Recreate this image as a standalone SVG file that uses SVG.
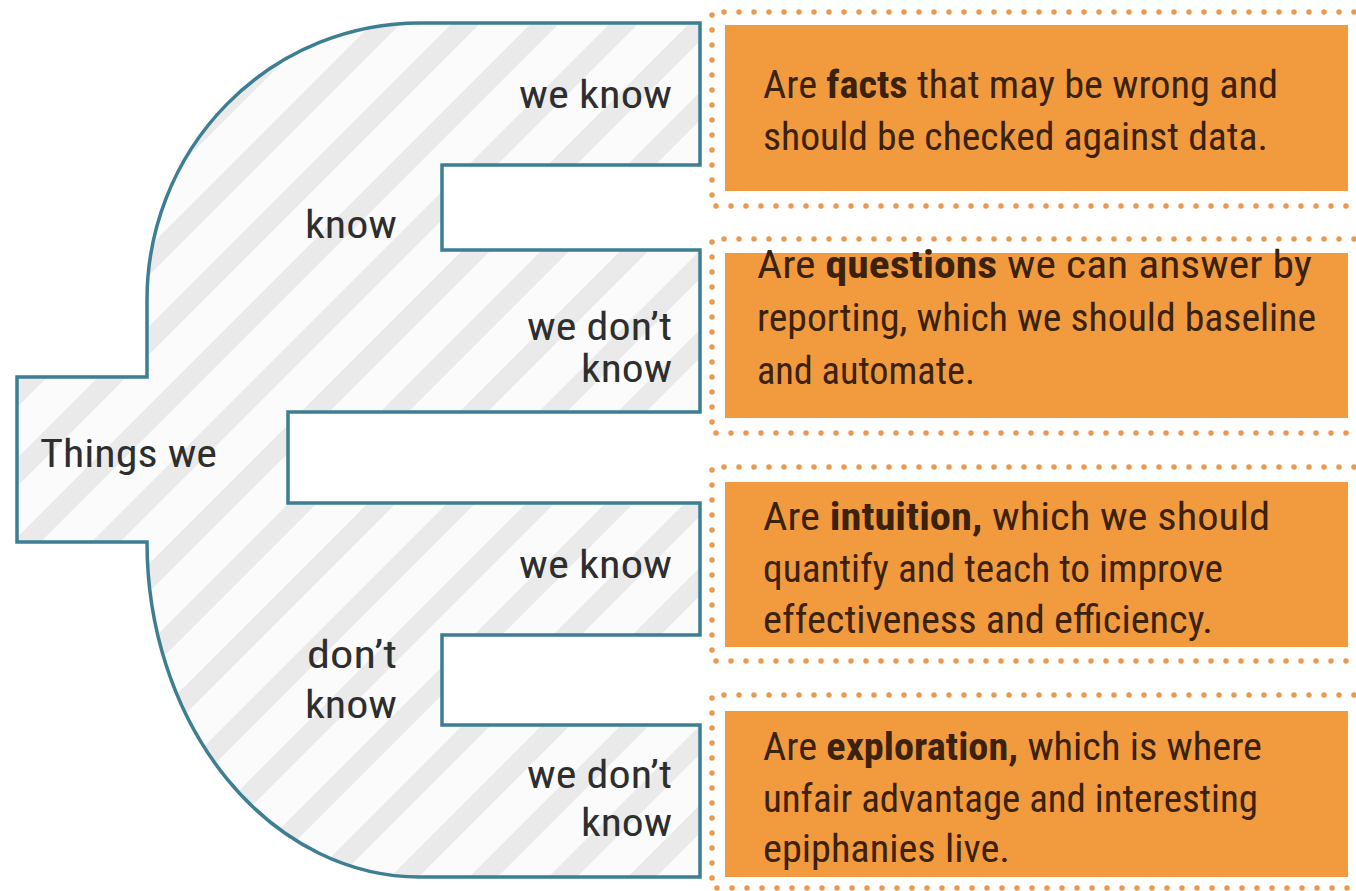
<svg xmlns="http://www.w3.org/2000/svg" width="1356" height="891" viewBox="0 0 1356 891">
  <style>
    .lbl { font-family: "Liberation Sans Narrow", "Roboto Condensed", "Liberation Sans", sans-serif; font-size: 39px; fill: #2e2e2e; }
    .txt { font-family: "Liberation Sans Narrow", "Roboto Condensed", "Liberation Sans", sans-serif; font-size: 39px; fill: #3a220c; }
    .b { font-weight: bold; }
    .card { fill: #f29a3e; }
    .dots { fill: none; stroke: #e99a50; stroke-width: 5.5; stroke-linecap: round; stroke-dasharray: 0 15; }
    .outline { fill: url(#hatch); stroke: #3d7e92; stroke-width: 3.5; stroke-linejoin: miter; }
  </style>
  <defs>
    <pattern id="hatch" patternUnits="userSpaceOnUse" width="56" height="56" patternTransform="rotate(45)">
      <rect width="56" height="56" fill="#fbfbfb"/>
      <rect x="0" y="0" width="20" height="56" fill="#eaeaea"/>
    </pattern>
  </defs>

  <rect width="1356" height="891" fill="#ffffff"/>

  <!-- branching outline -->
  <g id="tree">
    <path class="outline" d="M 420 23 H 700 V 165 H 442 V 250 H 700 V 412 H 288 V 503 H 700 V 635 H 442 V 725 H 700 V 877 H 420 A 273 335 0 0 1 147 542 H 17 V 377 H 147 V 300 A 273 277 0 0 1 420 23 Z"/>
    <text class="lbl" x="40" y="467" textLength="177" lengthAdjust="spacingAndGlyphs">Things we</text>
    <text class="lbl" x="305" y="238" textLength="92" lengthAdjust="spacingAndGlyphs">know</text>
    <text class="lbl" x="307" y="668" textLength="90" lengthAdjust="spacingAndGlyphs">don’t</text>
    <text class="lbl" x="305" y="718" textLength="92" lengthAdjust="spacingAndGlyphs">know</text>
    <text class="lbl" x="519" y="108" textLength="153" lengthAdjust="spacingAndGlyphs">we know</text>
    <text class="lbl" x="527" y="340" textLength="145" lengthAdjust="spacingAndGlyphs">we don’t</text>
    <text class="lbl" x="581" y="382" textLength="91" lengthAdjust="spacingAndGlyphs">know</text>
    <text class="lbl" x="519" y="578" textLength="153" lengthAdjust="spacingAndGlyphs">we know</text>
    <text class="lbl" x="527" y="788" textLength="145" lengthAdjust="spacingAndGlyphs">we don’t</text>
    <text class="lbl" x="581" y="836" textLength="91" lengthAdjust="spacingAndGlyphs">know</text>
  </g>

  <!-- dotted frames -->
  <g id="frames">
    <path class="dots" d="M 1354 12 H 712 V 206 H 1354"/>
    <path class="dots" d="M 1354 239 H 712 V 433 H 1354"/>
    <path class="dots" d="M 1354 467 H 712 V 661 H 1354"/>
    <path class="dots" d="M 1354 695 H 712 V 888 H 1354"/>
  </g>

  <g id="facts">
    <rect class="card" x="725" y="25" width="623" height="166"/>
    <text class="txt" x="763" y="98" textLength="515" lengthAdjust="spacingAndGlyphs">Are <tspan class="b">facts</tspan> that may be wrong and</text>
    <text class="txt" x="763" y="150" textLength="505" lengthAdjust="spacingAndGlyphs">should be checked against data.</text>
  </g>

  <g id="questions">
    <rect class="card" x="725" y="253" width="623" height="165"/>
    <text class="txt" x="757" y="278" textLength="555" lengthAdjust="spacingAndGlyphs">Are <tspan class="b">questions</tspan> we can answer by</text>
    <text class="txt" x="757" y="331" textLength="559" lengthAdjust="spacingAndGlyphs">reporting, which we should baseline</text>
    <text class="txt" x="757" y="384" textLength="218" lengthAdjust="spacingAndGlyphs">and automate.</text>
  </g>

  <g id="intuition">
    <rect class="card" x="725" y="482" width="623" height="165"/>
    <text class="txt" x="763" y="530" textLength="507" lengthAdjust="spacingAndGlyphs">Are <tspan class="b">intuition,</tspan> which we should</text>
    <text class="txt" x="763" y="582" textLength="460" lengthAdjust="spacingAndGlyphs">quantify and teach to improve</text>
    <text class="txt" x="763" y="633" textLength="450" lengthAdjust="spacingAndGlyphs">effectiveness and efficiency.</text>
  </g>

  <g id="exploration">
    <rect class="card" x="725" y="711" width="623" height="166"/>
    <text class="txt" x="763" y="760" textLength="499" lengthAdjust="spacingAndGlyphs">Are <tspan class="b">exploration,</tspan> which is where</text>
    <text class="txt" x="763" y="812" textLength="495" lengthAdjust="spacingAndGlyphs">unfair advantage and interesting</text>
    <text class="txt" x="763" y="862" textLength="247" lengthAdjust="spacingAndGlyphs">epiphanies live.</text>
  </g>
</svg>
